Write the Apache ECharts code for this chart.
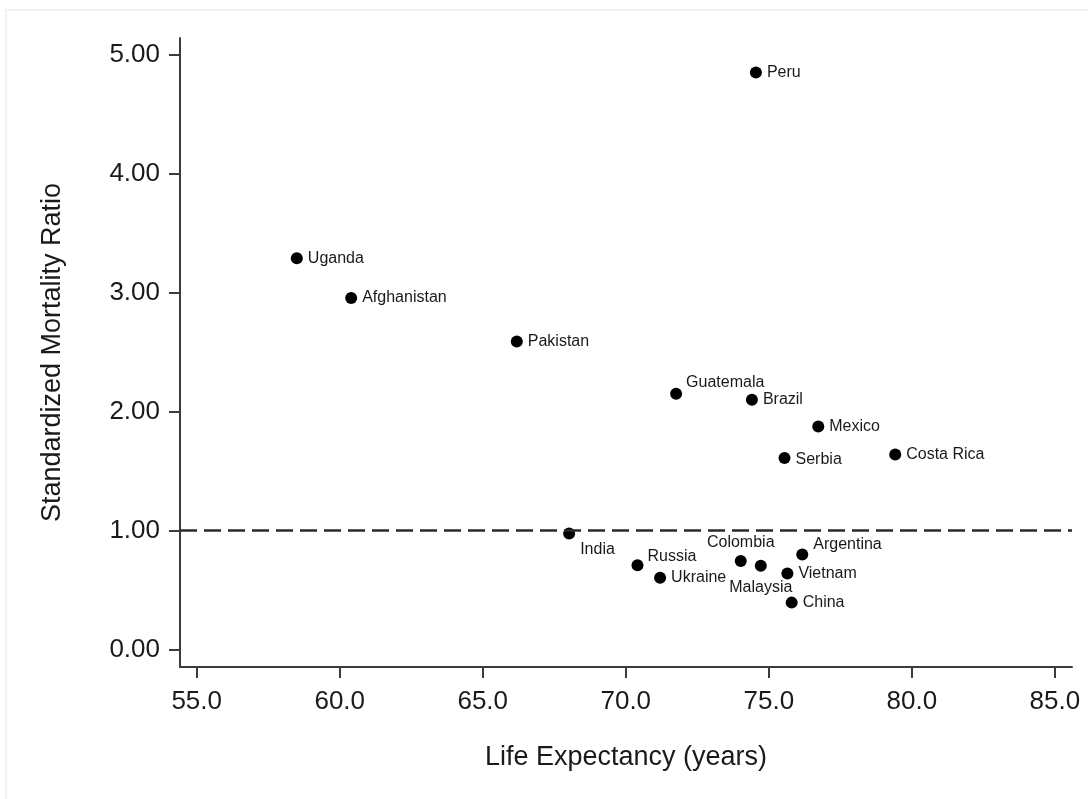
<!DOCTYPE html>
<html>
<head>
<meta charset="utf-8">
<script src="https://cdn.jsdelivr.net/npm/echarts@6/dist/echarts.min.js"></script>
<style>
  html, body { margin: 0; padding: 0; background: #ffffff; }
  #frame { position: absolute; left: 5px; top: 9px; width: 1083px; height: 790px;
           border-left: 2px solid #eef3f4; border-top: 2px solid #eef3f4; box-sizing: border-box; }
  #chart { position: absolute; left: 0; top: 0; width: 1088px; height: 799px; }
</style>
</head>
<body>
<div id="frame"></div>
<div id="chart"></div>
<script>
// Countries with life expectancy (years) and standardized mortality ratio
const countries = ['Peru', 'Uganda', 'Afghanistan', 'Pakistan', 'Guatemala', 'Brazil', 'Mexico',
  'Serbia', 'Costa Rica', 'India', 'Russia', 'Ukraine', 'Colombia', 'Malaysia', 'Vietnam',
  'Argentina', 'China'];
const lifeExpectancy = [74.55, 58.50, 60.40, 66.19, 71.76, 74.41, 76.73,
  75.55, 79.42, 68.02, 70.41, 71.20, 74.02, 74.72, 75.65,
  76.17, 75.80];
const smr = [4.85, 3.29, 2.955, 2.59, 2.15, 2.10, 1.875,
  1.61, 1.64, 0.975, 0.71, 0.605, 0.745, 0.705, 0.64,
  0.80, 0.395];

const xTicks = [55, 60, 65, 70, 75, 80, 85];
const yTicks = [0, 1, 2, 3, 4, 5];
const referenceSMR = 1;

// Label placement for points whose labels would otherwise collide
const labelPlacement = {
  'Guatemala': { position: 'right', offset: [-1, -11] },
  'India':     { position: 'right', offset: [0, 16] },
  'Russia':    { position: 'right', offset: [-1, -9] },
  'Argentina': { position: 'right', offset: [0, -10] },
  'Colombia':  { position: 'top', distance: 4 },
  'Malaysia':  { position: 'bottom', distance: 8 },
  'Serbia':    { position: 'right', offset: [0, 2] }
};

const points = countries.map((name, i) => {
  const item = { name: name, value: [lifeExpectancy[i], smr[i]] };
  if (labelPlacement[name]) item.label = labelPlacement[name];
  return item;
});

const textColor = '#1a1a1a';
const axisColor = '#3c3c3c';
const fontFamily = '"Liberation Sans", Arial, sans-serif';

const chart = echarts.init(document.getElementById('chart'), null, { renderer: 'canvas' });
chart.setOption({
  backgroundColor: 'transparent',
  animation: false,
  grid: { left: 180, right: 16, top: 38, bottom: 132 },
  xAxis: {
    type: 'value',
    min: 54.416,
    max: 85.60,
    name: 'Life Expectancy (years)',
    nameLocation: 'middle',
    nameGap: 77,
    nameTextStyle: { color: textColor, fontSize: 27, fontFamily: fontFamily },
    axisLine: { show: true, onZero: false, lineStyle: { color: axisColor, width: 2 } },
    axisTick: { show: true, length: 11, customValues: xTicks, lineStyle: { color: axisColor, width: 2 } },
    axisLabel: {
      customValues: xTicks, margin: 22, color: textColor, fontSize: 26, fontFamily: fontFamily,
      formatter: v => v.toFixed(1)
    },
    splitLine: { show: false }
  },
  yAxis: {
    type: 'value',
    min: -0.146,
    max: 5.14,
    name: 'Standardized Mortality Ratio',
    nameLocation: 'middle',
    nameGap: 114,
    nameTextStyle: { color: textColor, fontSize: 27, fontFamily: fontFamily },
    axisLine: { show: true, onZero: false, lineStyle: { color: axisColor, width: 2 } },
    axisTick: { show: true, length: 11, customValues: yTicks, lineStyle: { color: axisColor, width: 2 } },
    axisLabel: {
      customValues: yTicks, margin: 20, color: textColor, fontSize: 26, fontFamily: fontFamily,
      formatter: v => v.toFixed(2)
    },
    splitLine: { show: false }
  },
  series: [{
    type: 'scatter',
    symbol: 'circle',
    symbolSize: 12,
    itemStyle: { color: '#000000', opacity: 1 },
    label: {
      show: true,
      position: 'right',
      distance: 5,
      formatter: '{b}',
      color: textColor,
      fontSize: 16,
      fontFamily: fontFamily
    },
    emphasis: { disabled: true },
    data: points,
    markLine: {
      silent: true,
      symbol: 'none',
      label: { show: false },
      lineStyle: { color: '#2a2a2a', width: 2.5, type: [17, 7], opacity: 1 },
      data: [{ yAxis: referenceSMR }]
    }
  }]
});
</script>
</body>
</html>
